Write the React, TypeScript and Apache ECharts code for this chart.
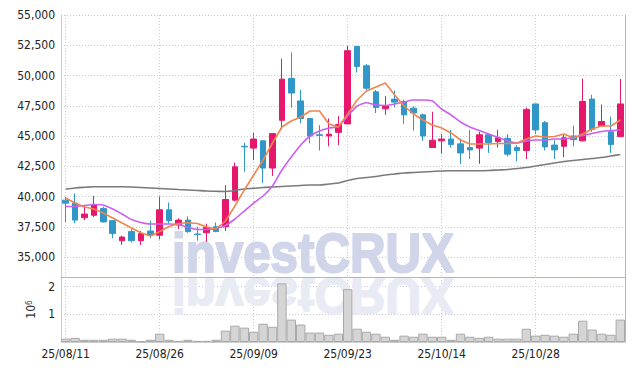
import React, { useEffect, useRef } from "react";
import * as echarts from "echarts";

const dates = [
  "25/08/11", "25/08/12", "25/08/13", "25/08/14", "25/08/18", "25/08/19", "25/08/20", "25/08/21", "25/08/22", "25/08/25",
  "25/08/26", "25/08/27", "25/08/28", "25/08/29", "25/09/01", "25/09/02", "25/09/03", "25/09/04", "25/09/05", "25/09/08",
  "25/09/09", "25/09/10", "25/09/11", "25/09/12", "25/09/15", "25/09/16", "25/09/17", "25/09/18", "25/09/19", "25/09/22",
  "25/09/23", "25/09/24", "25/09/25", "25/09/26", "25/09/29", "25/09/30", "25/10/01", "25/10/02", "25/10/10", "25/10/13",
  "25/10/14", "25/10/15", "25/10/16", "25/10/17", "25/10/20", "25/10/21", "25/10/22", "25/10/23", "25/10/24", "25/10/27",
  "25/10/28", "25/10/29", "25/10/30", "25/10/31", "25/11/03", "25/11/04", "25/11/05", "25/11/06", "25/11/07", "25/11/10",
];

const opens = [
  39700, 39450, 38250, 38450, 39000, 38000, 36350, 37100, 36350, 37150,
  36800, 38900, 37650, 38050, 36900, 37000, 37500, 37500, 39700, 44150,
  44000, 44600, 42350, 46300, 49750, 47900, 46450, 45100, 45000, 45300,
  46000, 52400, 50800, 48650, 47250, 48050, 47850, 47300, 46750, 44050,
  44600, 44750, 44350, 44050, 44000, 45100, 44550, 44800, 44050, 43800,
  47650, 46100, 44250, 44150, 45000, 44600, 48050, 45850, 45350, 44950,
];
const closes = [
  39450, 38050, 38550, 39300, 37900, 36950, 36650, 36350, 36950, 36800,
  38900, 38000, 38050, 37100, 36850, 37450, 37100, 39750, 42450, 44100,
  44750, 42350, 45200, 49700, 48550, 46450, 45000, 45050, 45150, 45950,
  52050, 50750, 48950, 47350, 47500, 47800, 46750, 46900, 45000, 44650,
  44750, 44300, 43600, 43850, 45100, 44450, 44850, 43500, 43800, 47200,
  45500, 44100, 43850, 44850, 44700, 47850, 45550, 46200, 44300, 47650,
];
const lows = [
  37900, 37800, 38050, 38300, 37850, 36550, 36000, 36200, 36000, 36550,
  36450, 37750, 37300, 37000, 36350, 36250, 37050, 37150, 39600, 42050,
  43000, 41100, 41700, 45550, 47350, 46050, 44400, 43800, 44150, 44250,
  46000, 50250, 48650, 46900, 46750, 47350, 46000, 45450, 44600, 44050,
  43550, 44050, 42700, 43100, 42700, 43600, 44050, 43300, 42900, 43100,
  45150, 43800, 43100, 43250, 44150, 44550, 45350, 45800, 43600, 44950,
];
const highs = [
  39950, 40250, 39300, 40050, 39150, 38050, 36750, 37300, 37150, 38000,
  40000, 39500, 38200, 38350, 37500, 37750, 37850, 40950, 42800, 44450,
  45250, 44650, 45250, 51400, 51900, 48800, 46500, 45900, 46450, 46650,
  52450, 52450, 50950, 48800, 48300, 48750, 48000, 47450, 46850, 47000,
  45150, 45500, 44800, 45500, 45350, 45100, 45500, 45150, 44250, 47350,
  47650, 46250, 44650, 45150, 45850, 49750, 48400, 47600, 46600, 49700,
];

const ma5 = [
  39877, 39463, 39133, 38967, 38637, 38224, 37810, 37397, 37010, 36737,
  37110, 37520, 37770, 37836, 37770, 37480, 37315, 37976, 39216, 40540,
  41778, 43017, 44422, 45744, 46240, 46570, 47067, 47067, 45992, 45744,
  46818, 47976, 48720, 49050, 49380, 48390, 47480, 46820, 46320, 45910,
  45660, 45250, 44670, 44340, 44340, 44340, 44380, 44380, 44420, 44750,
  45000, 44920, 44960, 45170, 44840, 45170, 45580, 45830, 45830, 46320,
];
const ma10 = [
  39175, 39175, 39257, 39340, 39300, 38970, 38555, 38100, 37850, 37727,
  37727, 37727, 37686, 37440, 37270, 37270, 37356, 37600, 38140, 38800,
  39460, 40040, 40870, 42190, 43265, 44260, 45000, 45413, 45660, 45785,
  46650, 47480, 47750, 47560, 47520, 47645, 47810, 47976, 47976, 47890,
  47230, 46736, 46160, 45744, 45455, 45166, 44876, 44587, 44422, 44587,
  44670, 44670, 44750, 44750, 44876, 45040, 45207, 45372, 45455, 45496,
];
const maLong = [
  40621, 40703, 40761, 40811, 40811, 40811, 40811, 40786, 40745, 40703,
  40662, 40621, 40579, 40538, 40497, 40455, 40430, 40414, 40497, 40621,
  40678, 40745, 40786, 40827, 40869, 40910, 40951, 40951, 41034, 41116,
  41323, 41488, 41571, 41654, 41778, 41860, 41943, 41984, 42026, 42067,
  42108, 42125, 42133, 42133, 42133, 42150, 42191, 42232, 42315, 42398,
  42521, 42645, 42769, 42893, 42976, 43058, 43141, 43224, 43348, 43472,
];

const volumes = [
  120000, 150000, 80000, 80000, 80000, 120000, 120000, 80000, 20000, 80000,
  300000, 80000, 40000, 80000, 40000, 40000, 80000, 410000, 590000, 520000,
  370000, 660000, 550000, 2120000, 810000, 630000, 340000, 340000, 260000, 300000,
  1910000, 480000, 370000, 300000, 190000, 80000, 230000, 190000, 300000, 190000,
  190000, 80000, 300000, 190000, 150000, 190000, 120000, 120000, 120000, 480000,
  230000, 260000, 230000, 190000, 300000, 770000, 450000, 300000, 260000, 810000,
];

const priceMin = 35000;
const priceMax = 55000;
const priceStep = 2500;
const volumeMax = 2350000;
const volumeStep = 1000000;
const watermark = "investCRUX";

const UP = "#e5186b";
const DOWN = "#3197c9";
const FONT = "DejaVu Sans Condensed";
const GRID_LINE = { color: "#c9c9dc", type: [1, 2] as number[], width: 1 };

export default function App() {
  const ref = useRef<HTMLDivElement>(null);

  useEffect(() => {
    if (!ref.current) return;
    const chart = echarts.init(ref.current, undefined, { renderer: "svg" });

    const gridBox = { left: 61, right: 9 };
    const catAxis = (gridIndex: number, extra: any = {}) => ({
      type: "category",
      gridIndex,
      data: dates,
      boundaryGap: true,
      axisLine: { show: false },
      axisTick: { show: false },
      axisLabel: { show: false },
      splitLine: { show: true, interval: 9, alignWithLabel: true, lineStyle: GRID_LINE },
      ...extra,
    });
    const rightAxis = (gridIndex: number) => ({
      type: "value",
      gridIndex,
      position: "right",
      axisLine: { show: true, lineStyle: { color: "#b8b8b8" } },
      axisTick: { show: false },
      axisLabel: { show: false },
      splitLine: { show: false },
    });
    const markStyle = (color: string) => ({
      text: watermark,
      x: 0,
      y: -22.4,
      font: "bold 56px Liberation Sans",
      fill: color,
      stroke: color,
      lineWidth: 2,
      textAlign: "left",
      textVerticalAlign: "middle",
    });

    const option: any = {
      animation: false,
      textStyle: { fontFamily: FONT },
      grid: [
        { ...gridBox, top: 15, height: 242 },
        { ...gridBox, top: 257, height: 20 },
        { ...gridBox, top: 277, height: 65 },
      ],
      xAxis: [
        catAxis(0),
        catAxis(1, { z: 5, axisLine: { show: true, lineStyle: { color: "#b4b4b4" } } }),
        catAxis(2, {
          axisLine: { show: true, lineStyle: { color: "#cccccc" } },
          axisLabel: { show: true, interval: 9, color: "#222", fontSize: 12, margin: 6, fontFamily: FONT },
        }),
      ],
      yAxis: [
        {
          type: "value",
          gridIndex: 0,
          min: priceMin,
          max: priceMax,
          interval: priceStep,
          axisLine: { show: true, lineStyle: { color: "#cccccc" } },
          axisTick: { show: false },
          axisLabel: {
            color: "#222",
            fontSize: 12,
            margin: 6,
            fontFamily: FONT,
            formatter: (v: number) => v.toLocaleString("en-US"),
          },
          splitLine: { show: true, lineStyle: GRID_LINE },
        },
        rightAxis(0),
        {
          type: "value",
          gridIndex: 1,
          min: 0,
          max: 1,
          axisLine: { show: true, lineStyle: { color: "#cccccc" } },
          axisTick: { show: false },
          axisLabel: { show: false },
          splitLine: { show: false },
        },
        rightAxis(1),
        {
          type: "value",
          gridIndex: 2,
          min: 0,
          max: volumeMax,
          interval: volumeStep,
          axisLine: { show: true, lineStyle: { color: "#cccccc" } },
          axisTick: { show: false },
          axisLabel: {
            color: "#222",
            fontSize: 12,
            margin: 6,
            fontFamily: FONT,
            formatter: (v: number) => (v > 0 && v % volumeStep === 0 ? String(v / volumeStep) : ""),
          },
          splitLine: { show: true, lineStyle: GRID_LINE },
          name: "{b|10}{s|6}",
          nameLocation: "middle",
          nameRotate: 90,
          nameGap: 24,
          nameTextStyle: {
            color: "#333",
            fontFamily: FONT,
            rich: {
              b: { fontSize: 12, color: "#333", fontFamily: FONT },
              s: { fontSize: 8, color: "#333", fontFamily: FONT, verticalAlign: "top" },
            },
          },
        },
        rightAxis(2),
      ],
      graphic: [
        {
          type: "text",
          x: 172,
          y: 275,
          scaleX: 0.88,
          z: 1,
          silent: true,
          style: markStyle("#d0d5ea"),
        },
        {
          type: "text",
          x: 172,
          y: 275,
          scaleX: 0.88,
          scaleY: -0.9,
          z: 1,
          silent: true,
          style: markStyle("#e9ebf4"),
        },
      ],
      series: [
        {
          type: "candlestick",
          xAxisIndex: 0,
          yAxisIndex: 0,
          barWidth: 6,
          data: dates.map((_, i) => [opens[i], closes[i], lows[i], highs[i]]),
          itemStyle: { color: UP, color0: DOWN, borderColor: UP, borderColor0: DOWN, borderWidth: 1 },
        },
        {
          type: "line",
          xAxisIndex: 0,
          yAxisIndex: 0,
          data: maLong,
          showSymbol: false,
          smooth: 0.3,
          lineStyle: { color: "#7a7a7a", width: 1.6 },
        },
        {
          type: "line",
          xAxisIndex: 0,
          yAxisIndex: 0,
          data: ma10,
          showSymbol: false,
          smooth: 0.2,
          lineStyle: { color: "#cc5ef0", width: 1.6 },
        },
        {
          type: "line",
          xAxisIndex: 0,
          yAxisIndex: 0,
          data: ma5,
          showSymbol: false,
          lineStyle: { color: "#f0854e", width: 1.6 },
        },
        {
          type: "bar",
          xAxisIndex: 2,
          yAxisIndex: 4,
          data: volumes,
          barWidth: "100%",
          itemStyle: { color: "#d5d5d5", borderColor: "#a9a9a9", borderWidth: 1 },
        },
      ],
    };

    chart.setOption(option);
    return () => chart.dispose();
  }, []);

  return <div ref={ref} style={{ width: 634, height: 371, position: "absolute", left: 0, top: 0 }} />;
}
